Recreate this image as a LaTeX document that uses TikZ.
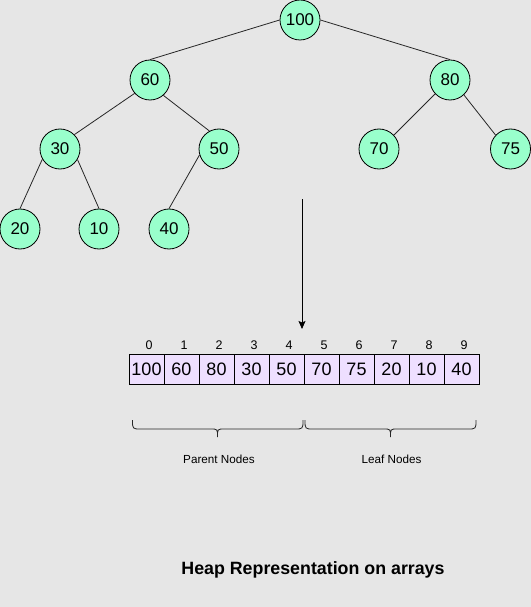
\documentclass[tikz,border=0pt]{standalone}
\usepackage{fontspec}
\setmainfont{Liberation Sans}
\usetikzlibrary{arrows.meta}
\definecolor{bgc}{HTML}{E6E6E6}
\definecolor{mint}{HTML}{99FFCC}
\definecolor{lav}{HTML}{EEDFFF}
\tikzset{
  hnode/.style={circle,draw=black,fill=mint,line width=0.8bp,minimum size=40bp,inner sep=0pt,font=\fontsize{17bp}{20bp}\selectfont},
  edge/.style={draw=black!85,line width=0.8bp},
  cell/.style={rectangle,draw=black,fill=lav,line width=0.8bp,minimum width=35bp,minimum height=30bp,inner sep=0pt,font=\fontsize{18bp}{21bp}\selectfont},
  idx/.style={inner sep=0pt,font=\fontsize{12.5bp}{14bp}\selectfont},
  lbl/.style={inner sep=0pt,font=\fontsize{11.7bp}{14bp}\selectfont},
  brc/.style={draw=black!85,line width=0.8bp},
}
\begin{document}
\begin{tikzpicture}[x=1bp,y=-1bp]
\fill[bgc] (0,0) rectangle (531,607);
\useasboundingbox (0,0) rectangle (531,607);
% tree
\node[hnode] (n100) at (300,20) {100};
\node[hnode] (n60) at (150,80) {60};
\node[hnode] (n80) at (450,80) {80};
\node[hnode] (n30) at (60,149) {30};
\node[hnode] (n50) at (219,149) {50};
\node[hnode] (n70) at (379,149) {70};
\node[hnode] (n75) at (510.5,149) {75};
\node[hnode] (n20) at (20,229) {20};
\node[hnode] (n10) at (99,229) {10};
\node[hnode] (n40) at (169,229) {40};
\draw[edge] (n100.west) -- (n60.north);
\draw[edge] (n100.east) -- (n80.north);
\draw[edge] (n60.221) -- (n30.45);
\draw[edge] (n60.311) -- (n50.118);
\draw[edge] (n30.210) -- (n20.north);
\draw[edge] (n30.329) -- (n10.north);
\draw[edge] (n50.197) -- (n40.north);
\draw[edge] (n80.223) -- (n70.43);
\draw[edge] (n80.313) -- (n75.137);
% arrow
\coordinate (arrS) at (302,199);
\coordinate (arrE) at (302,329);
\draw[line width=0.8bp,-{Stealth[length=8bp,width=7bp,inset=1.5bp]}] (arrS) -- (arrE);
% array
\foreach \v [count=\i from 0] in {100,60,80,30,50,70,75,20,10,40}{
  \node[cell] (c\i) at (146.5+35*\i,369) {\v};
  \node[idx] (i\i) at (149+35*\i,345) {\i};
}
% braces
\coordinate (bL1) at (132.5,420);
\coordinate (bL2) at (303,420);
\coordinate (bR1) at (305,420);
\coordinate (bR2) at (476,420);
\draw[brc] (bL1) .. controls (132.5,429) .. (141,429) -- (211,429)
  .. controls (217.5,429) .. (217.5,437) .. controls (217.5,429) .. (224,429)
  -- (294.5,429) .. controls (303,429) .. (bL2);
\draw[brc] (bR1) .. controls (305,429) .. (313.5,429) -- (384,429)
  .. controls (390.5,429) .. (390.5,437) .. controls (390.5,429) .. (397,429)
  -- (467.5,429) .. controls (476,429) .. (bR2);
\node[lbl] (pn) at (219,459) {Parent Nodes};
\node[lbl] (ln) at (391.5,459) {Leaf Nodes};
% title
\node[inner sep=0pt,font=\fontsize{17.8bp}{21bp}\selectfont\bfseries] (title) at (313,570) {Heap Representation on arrays};
\end{tikzpicture}
\end{document}
